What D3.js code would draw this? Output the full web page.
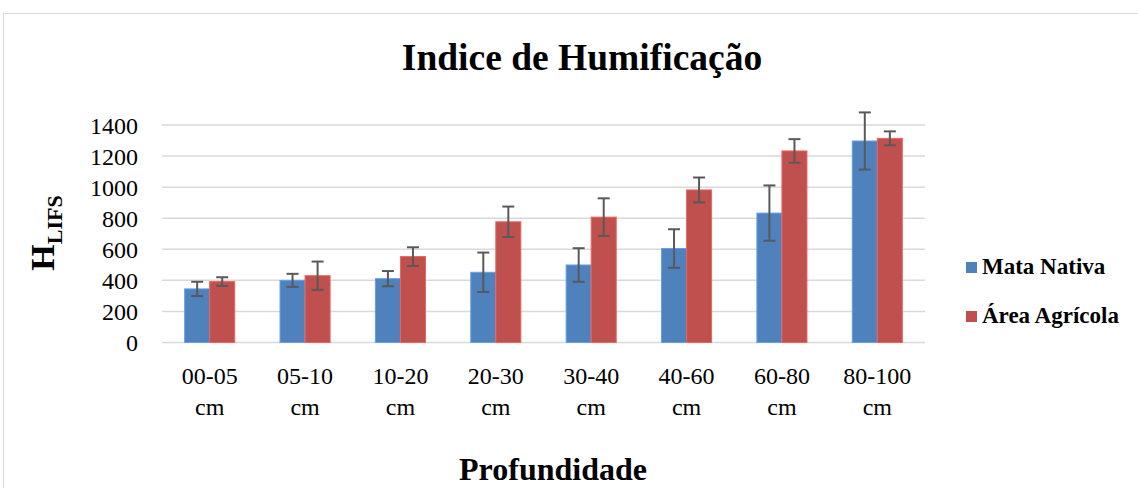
<!DOCTYPE html>
<html>
<head>
<meta charset="utf-8">
<script src="https://cdn.jsdelivr.net/npm/d3@7"></script>
<style>
  body { margin: 0; background: #fff; }
  svg text { font-family: "Liberation Serif", "Times New Roman", serif !important; fill: #000; }
</style>
</head>
<body>
<svg id="chart" width="1138" height="488"></svg>
<script>
const categories = ["00-05 cm", "05-10 cm", "10-20 cm", "20-30 cm", "30-40 cm", "40-60 cm", "60-80 cm", "80-100 cm"];
const seriesNames = ["Mata Nativa", "Área Agrícola"];
const mataNativa = [345, 400, 411, 452, 499, 605, 833, 1297];
const mataNativaErr = [46, 42, 49, 127, 108, 124, 178, 184];
const areaAgricola = [392, 430, 553, 777, 807, 982, 1233, 1314];
const areaAgricolaErr = [28, 91, 60, 98, 121, 80, 76, 45];
const yTicks = [0, 200, 400, 600, 800, 1000, 1200, 1400];
const colors = ["#4F81BD", "#C0504D"];

const svg = d3.select("#chart");
const serif = '"Liberation Serif", "Times New Roman", serif';

// outer chart frame
svg.append("rect")
    .attr("x", 3.5).attr("y", 13.5)
    .attr("width", 1200).attr("height", 600)
    .attr("fill", "#fff").attr("stroke", "#d9d9d9").attr("stroke-width", 1);

const x0 = d3.scaleBand().domain(categories).range([162, 925]);
const groupW = x0.bandwidth() * 0.525;
const x1 = d3.scaleBand().domain(seriesNames).range([0, groupW]);
const y = d3.scaleLinear().domain([0, 1400]).range([342.5, 125]);

// gridlines
svg.append("g").selectAll("line").data(yTicks).enter().append("line")
    .attr("x1", 162).attr("x2", 925)
    .attr("y1", d => y(d)).attr("y2", d => y(d))
    .attr("stroke", "#d9d9d9").attr("stroke-width", 1.5);

// y axis labels
const yAxis = d3.axisLeft(y).tickValues(yTicks).tickFormat(d3.format("d")).tickSize(0).tickPadding(0);
const yg = svg.append("g").attr("transform", "translate(138,0)").call(yAxis)
    .attr("font-family", serif).attr("font-size", 24);
yg.select(".domain").remove();
yg.selectAll("text").attr("fill", "#000").attr("dy", "0.35em");

const series = [
  {name: seriesNames[0], vals: mataNativa, err: mataNativaErr, color: colors[0]},
  {name: seriesNames[1], vals: areaAgricola, err: areaAgricolaErr, color: colors[1]}
];

series.forEach(s => {
  const g = svg.append("g");
  const data = categories.map((c, i) => ({c, v: s.vals[i], e: s.err[i]}));
  const bx = d => x0(d.c) + (x0.bandwidth() - groupW) / 2 + x1(s.name);
  g.selectAll("rect").data(data).enter().append("rect")
      .attr("x", d => bx(d))
      .attr("y", d => y(d.v))
      .attr("width", x1.bandwidth())
      .attr("height", d => y(0) - y(d.v))
      .attr("fill", s.color)
      .attr("stroke", d3.color(s.color).brighter(0.6))
      .attr("stroke-width", 1);
  // error bars
  const cx = d => bx(d) + x1.bandwidth() / 2;
  const eg = g.selectAll("g.err").data(data).enter().append("g").attr("class", "err")
      .attr("stroke", "#595959").attr("stroke-width", 2);
  eg.append("line").attr("x1", cx).attr("x2", cx).attr("y1", d => y(d.v + d.e)).attr("y2", d => y(d.v - d.e));
  eg.append("line").attr("x1", d => cx(d) - 6).attr("x2", d => cx(d) + 6).attr("y1", d => y(d.v + d.e)).attr("y2", d => y(d.v + d.e));
  eg.append("line").attr("x1", d => cx(d) - 6).attr("x2", d => cx(d) + 6).attr("y1", d => y(d.v - d.e)).attr("y2", d => y(d.v - d.e));
});

// category labels (two lines)
const cg = svg.append("g").selectAll("text").data(categories).enter().append("text")
    .attr("text-anchor", "middle")
    .attr("x", d => x0(d) + x0.bandwidth() / 2)
    .attr("y", 384)
    .attr("font-family", serif)
    .attr("font-size", 24);
cg.append("tspan").attr("x", d => x0(d) + x0.bandwidth() / 2).text(d => d.split(" ")[0]);
cg.append("tspan").attr("x", d => x0(d) + x0.bandwidth() / 2).attr("dy", 31).text(d => d.split(" ")[1]);

// title
svg.append("text").attr("x", 582).attr("y", 70).attr("text-anchor", "middle")
    .attr("font-family", serif).attr("font-size", 37.5).attr("font-weight", "bold")
    .text("Indice de Humificação");

// x axis title
svg.append("text").attr("x", 553).attr("y", 480).attr("text-anchor", "middle")
    .attr("font-family", serif).attr("font-size", 32).attr("font-weight", "bold")
    .text("Profundidade");

// y axis title
const yt = svg.append("text").attr("transform", "translate(54,233) rotate(-90)")
    .attr("text-anchor", "middle").attr("font-family", serif).attr("font-weight", "bold");
yt.append("tspan").attr("font-size", 34).text("H");
yt.append("tspan").attr("font-size", 22).attr("dy", 8).text("LIFS");

// legend
const lg = svg.append("g").selectAll("g").data(series).enter().append("g")
    .attr("transform", (d, i) => `translate(966,${262 + i * 49})`);
lg.append("rect").attr("width", 11).attr("height", 11).attr("fill", d => d.color);
lg.append("text").attr("x", 16).attr("y", 12)
    .attr("font-family", serif).attr("font-size", 23).attr("font-weight", "bold")
    .text(d => d.name);
</script>
</body>
</html>
